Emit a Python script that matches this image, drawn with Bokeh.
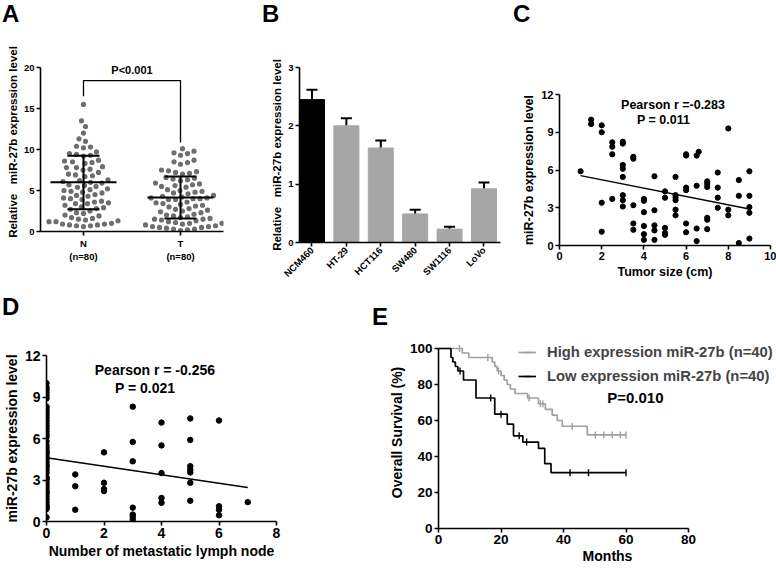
import math
import numpy as np
from bokeh.plotting import figure
from bokeh.models import (Label, Legend, LegendItem, Range1d, FixedTicker,
                          ColumnDataSource, Whisker, TeeHead, Div)
from bokeh.layouts import row, column
from bokeh.embed import file_html
from bokeh.resources import INLINE

FONT = "Liberation Sans"

# ---------------- data ----------------
# A: scatter dot plot (N vs T)
cat_pos_A = [1, 2]
cat_labels_A = ["N\n(n=80)", "T\n(n=80)"]
vals_N = [15.5, 13.5, 12.8, 12.0, 11.3, 11.0, 10.4, 10.3, 10.2, 9.7, 9.5, 9.4, 9.3, 9.2,
          8.7, 8.6, 8.5, 8.4, 8.3, 7.9, 7.8, 7.8, 7.6, 7.5, 7.2, 7.0, 6.9, 6.8, 6.7,
          6.3, 6.2, 6.1, 6.0, 5.9, 5.7, 5.6, 5.5, 5.4, 5.2, 5.1, 5.0, 4.9, 4.8, 4.7,
          4.5, 4.4, 4.3, 4.1, 4.0, 3.9, 3.7, 3.6, 3.5, 3.4, 3.4, 3.2, 3.0, 2.9, 2.8, 2.7,
          2.5, 2.3, 2.2, 2.0, 1.9, 1.7, 1.6, 1.5, 1.4, 1.3, 1.2, 1.2,
          1.0, 0.9, 0.9, 0.8, 0.8, 0.7, 0.7, 0.6]
vals_T = [10.1, 9.8, 9.6, 9.5, 9.3, 8.7, 8.5, 8.4, 8.2, 7.5, 7.4, 7.3, 7.2, 7.1, 7.0,
          6.6, 6.5, 6.4, 6.3, 6.2, 5.9, 5.8, 5.7, 5.6, 5.5, 5.4, 5.1, 5.0, 4.9, 4.8, 4.7, 4.6,
          4.4, 4.3, 4.2, 4.1, 4.1, 4.0, 4.0, 3.9, 3.9, 3.6, 3.5, 3.4, 3.3, 3.2, 3.1, 3.0,
          2.8, 2.7, 2.6, 2.5, 2.4, 2.3, 2.1, 2.0, 1.9, 1.8, 1.7,
          1.6, 1.5, 1.5, 1.4, 1.3, 1.2, 1.1, 1.0, 0.9, 0.8, 0.7, 0.6, 0.5, 0.5, 0.4,
          0.3, 0.3, 0.2, 0.1, 0.6, 1.0]
mean_A = [6.0, 4.15]
sd_low_A = [2.7, 1.6]
sd_high_A = [9.25, 6.7]
bracket_A = [16.5, 18.4, 10.85]   # left foot, top, right foot
p_text_A = "P<0.001"

# B: cell lines bar chart
cells_B = ["NCM460", "HT-29", "HCT116", "SW480", "SW1116", "LoVo"]
mean_B = [2.45, 2.0, 1.62, 0.49, 0.23, 0.92]
err_B = [0.17, 0.13, 0.13, 0.07, 0.04, 0.11]

# C: tumor size vs expression
tumor_size = [1, 1.5, 1.5, 2, 2, 2, 2, 2.5, 2.5, 2.5, 2.5,
              3, 3, 3, 3, 3, 3, 3, 3, 3.5, 3.5, 3.5, 3.5, 3.5,
              4, 4, 4, 4, 4, 4, 4.5, 4.5, 4.5, 4.5, 4.5, 5, 5, 5, 5, 5,
              5.5, 5.5, 5.5, 5.5, 5.5, 5.5, 6, 6, 6, 6, 6, 6,
              6.5, 6.6, 6.5, 6.5, 6.5, 7, 7, 7, 7, 7, 7, 7.5, 7.5, 7.5, 7.5,
              8, 8, 8, 8.5, 8.5, 8.5, 9, 9, 9, 9, 9]
expr_C = [5.9, 10.0, 9.65, 9.55, 9.0, 3.4, 1.1, 8.2, 7.85, 7.25, 3.7,
          8.25, 8.1, 6.4, 6.1, 5.45, 4.0, 3.6, 3.1, 7.05, 6.9, 3.2, 1.75, 1.25,
          3.7, 3.55, 2.65, 1.55, 0.9, 0.45, 5.5, 2.8, 1.6, 1.2, 0.45, 4.3, 3.8, 1.4, 1.0, 0.85,
          5.45, 4.0, 3.8, 3.6, 2.85, 2.4, 7.25, 7.15, 4.6, 4.4, 1.75, 1.05,
          7.15, 7.45, 4.75, 1.35, 0.35, 5.1, 4.9, 4.65, 2.2, 2.05, 1.3, 5.8, 4.6, 3.8, 3.0,
          9.3, 2.85, 2.4, 5.2, 3.95, 0.2, 5.9, 3.95, 3.05, 2.6, 0.55]
fit_C_x = [1, 9]
fit_C_y = [5.55, 2.9]
stats_C = ["Pearson r =-0.283", "P = 0.011"]

# D: metastatic lymph nodes vs expression
nodes_D = [0, 0, 0, 0, 0, 0, 0, 0, 0, 0, 0, 0, 0, 0, 0, 0, 0, 0, 0, 0,
           0, 0, 0, 0, 0, 0, 0, 0, 0, 0, 0, 0, 0, 0, 0, 0, 0, 0, 0, 0,
           0, 0, 0, 0, 0, 0, 0, 0, 0,
           1, 1, 1, 2, 2, 2, 2, 3, 3, 3, 3, 3, 3, 3, 4, 4, 4, 4, 4,
           5, 5, 5, 5, 5, 5, 5, 6, 6, 6, 6, 7]
expr_D = [10.0, 9.7, 9.5, 9.3, 9.1, 8.9, 8.3, 8.1, 7.9, 7.7, 7.3, 7.1, 6.9, 6.7, 6.3, 6.1,
          5.8, 5.5, 5.3, 5.1, 4.9, 4.7, 4.5, 4.3, 4.1, 3.9, 3.7, 3.5, 3.2, 3.0, 2.8, 2.6,
          2.4, 2.2, 2.0, 1.8, 1.6, 1.4, 1.2, 1.0, 0.9, 0.3, 6.5, 5.0, 4.0, 3.1, 2.1, 1.1, 7.5,
          3.4, 2.55, 0.85, 5.0, 2.8, 2.35, 2.2, 8.3, 5.75, 4.35, 1.0, 0.5, 0.35, 0.15,
          7.15, 5.5, 3.5, 1.7, 1.35, 7.45, 5.9, 4.0, 3.75, 3.55, 2.8, 1.5,
          7.3, 1.1, 0.85, 0.45, 1.4]
fit_D_x = [0, 7]
fit_D_y = [4.6, 2.45]
stats_D = ["Pearson r = -0.256", "P = 0.021"]

# E: Kaplan-Meier
high_t = [0, 7.6, 9.7, 17.2, 18.0, 18.8, 20.0, 21.0, 22.0, 23.0, 24.5, 28.5, 32.0, 34.2,
          36.4, 38.0, 39.6, 47.6, 60]
high_s = [100, 97.5, 95.0, 92.5, 90.0, 87.5, 85.0, 82.5, 80.0, 77.5, 75.0, 72.5, 69.3, 66.2,
          63.0, 60.0, 56.8, 52.0, 52.0]
high_cens = [6.7, 15.8, 19.2, 29.0, 32.6, 33.4, 42.8, 50.2, 52.9, 55.6, 58.2, 60]
low_t = [0, 4.0, 4.6, 5.4, 6.2, 8.0, 12.0, 18.0, 22.0, 24.0, 27.0, 32.0, 34.0, 36.0, 60]
low_s = [100, 95.0, 92.5, 90.0, 87.5, 82.5, 72.5, 63.5, 58.0, 51.5, 48.0, 44.5, 36.0, 31.0, 31.0]
low_cens = [6.9, 16.7, 20.0, 25.8, 28.2, 42.1, 48.0, 60]
legend_E = ["High expression miR-27b (n=40)", "Low expression miR-27b (n=40)"]
p_text_E = "P=0.010"

panel_letters = ["A", "B", "C", "D", "E"]

# ---------------- helpers ----------------
GRAY_DOT = "#6e6e6e"
GRAY_BAR = "#a6a6a6"
GRAY_LINE = "#a0a0a0"


def style(p, tick_size, label_size):
    p.xgrid.visible = False
    p.ygrid.visible = False
    p.outline_line_color = None
    for ax in p.axis:
        ax.axis_line_width = 1.6
        ax.axis_line_color = "black"
        ax.major_tick_line_width = 1.6
        ax.major_tick_line_color = "black"
        ax.major_tick_in = 0
        ax.major_tick_out = 4
        ax.minor_tick_line_color = None
        ax.major_label_text_font = FONT
        ax.major_label_text_font_style = "bold"
        ax.major_label_text_font_size = tick_size
        ax.major_label_text_color = "black"
        ax.axis_label_text_font = FONT
        ax.axis_label_text_font_style = "bold"
        ax.axis_label_text_font_size = label_size
        ax.axis_label_text_color = "black"
        ax.major_label_standoff = 2
        ax.axis_label_standoff = 2


def txt(p, x, y, s, size):
    p.add_layout(Label(x=x, y=y, text=s, text_font=FONT, text_font_style="bold",
                       text_font_size=size, text_align="center", text_baseline="middle",
                       text_color="black"))


def letter_div(s, width, height, left, top):
    html = ('<div style="position:relative; left:%dpx; top:%dpx; font-family:\'%s\'; '
            'font-size:24px; font-weight:bold; line-height:24px; color:black; margin:0; '
            'padding:0;">%s</div>') % (left, top, FONT, s)
    return Div(text=html, width=width, height=height, margin=0)


def swarm(vals, center, px_x, px_y, d):
    vals = np.asarray(vals, dtype=float)
    order = np.argsort(vals)
    placed = []
    xs = np.zeros(len(vals))
    for i in order:
        y = vals[i] * px_y
        best = 0.0
        for k in range(0, 400):
            cands = [0.0] if k == 0 else [k * 0.5, -k * 0.5]
            found = None
            for s in cands:
                if all((s - a) ** 2 + (y - b) ** 2 >= d * d for a, b in placed):
                    found = s
                    break
            if found is not None:
                best = found
                break
        placed.append((best, y))
        xs[i] = center + best / px_x
    return xs


def make(width, height, xr, yr, l, r, t, b):
    return figure(width=width, height=height, x_range=Range1d(*xr), y_range=Range1d(*yr),
                  min_border_left=l, min_border_right=r, min_border_top=t, min_border_bottom=b,
                  frame_align=False, output_backend="svg", toolbar_location=None)

H1 = 30
H2 = 45

# ---------------- panel A ----------------
xa0, xa1 = 0.557, 2.443
pA = make(255, 285 - H1, (xa0, xa1), (0, 21.83), 40, 32, 52 - H1, 54)
style(pA, "9.5px", "11.5px")
pA.yaxis.ticker = FixedTicker(ticks=[0, 5, 10, 15, 20])
pA.yaxis.bounds = (0, 20)
pA.xaxis.ticker = FixedTicker(ticks=cat_pos_A)
pA.xaxis.major_label_overrides = {cat_pos_A[i]: cat_labels_A[i] for i in range(2)}
pA.yaxis.axis_label = "Relative\u00a0\u00a0\u00a0miR-27b expression level"
pxx = 183 / (xa1 - xa0)
pxy = 8.2
for pos, vals in zip(cat_pos_A, [vals_N, vals_T]):
    xs = swarm(vals, pos, pxx, pxy, 6.8)
    pA.scatter(xs, vals, size=5.2, color=GRAY_DOT, line_color=None)
half_mean = 33 / pxx
half_cap = 16 / pxx
pA.segment([c - half_mean for c in cat_pos_A], mean_A, [c + half_mean for c in cat_pos_A], mean_A,
           line_color="black", line_width=2)
pA.segment(cat_pos_A, sd_low_A, cat_pos_A, sd_high_A, line_color="black", line_width=2)
pA.segment([c - half_cap for c in cat_pos_A], sd_low_A, [c + half_cap for c in cat_pos_A], sd_low_A,
           line_color="black", line_width=2)
pA.segment([c - half_cap for c in cat_pos_A], sd_high_A, [c + half_cap for c in cat_pos_A], sd_high_A,
           line_color="black", line_width=2)
pA.line([cat_pos_A[0], cat_pos_A[0], cat_pos_A[1], cat_pos_A[1]],
        [bracket_A[0], bracket_A[1], bracket_A[1], bracket_A[2]], line_color="black", line_width=1.3)
txt(pA, (cat_pos_A[0] + cat_pos_A[1]) / 2, 19.75, p_text_A, "11px")

# ---------------- panel B ----------------
pB = make(257, 285 - H1, (-0.363, 5.48), (0, 3), 44, 12, 67 - H1, 43)
style(pB, "9.5px", "11.5px")
idx_B = list(range(len(cells_B)))
colors_B = ["black"] + [GRAY_BAR] * (len(cells_B) - 1)
srcB = ColumnDataSource(dict(x=idx_B, top=mean_B, upper=[m + e for m, e in zip(mean_B, err_B)],
                             color=colors_B))
pB.vbar(x="x", top="top", width=0.727, color="color", source=srcB)
pB.add_layout(Whisker(source=srcB, base="x", lower="top", upper="upper", line_width=2,
                      line_color="black", lower_head=None,
                      upper_head=TeeHead(size=11, line_width=2, line_color="black")))
pB.yaxis.ticker = FixedTicker(ticks=[0, 1, 2, 3])
pB.xaxis.ticker = FixedTicker(ticks=idx_B)
pB.xaxis.major_label_overrides = {i: c for i, c in zip(idx_B, cells_B)}
pB.xaxis.major_label_orientation = math.pi / 4
pB.yaxis.axis_label = "Relative\u00a0\u00a0\u00a0miR-27b expression level"

# ---------------- panel C ----------------
pC = make(264, 285 - H1, (0, 10), (0, 12), 47, 6, 94 - H1, 40)
style(pC, "11px", "12.5px")
pC.xaxis.ticker = FixedTicker(ticks=[0, 2, 4, 6, 8, 10])
pC.yaxis.ticker = FixedTicker(ticks=[0, 3, 6, 9, 12])
pC.xaxis.axis_label = "Tumor size (cm)"
pC.yaxis.axis_label = "miR-27b expression level"
pC.scatter(tumor_size, expr_C, size=5.2, color="black")
pC.line(fit_C_x, fit_C_y, line_color="black", line_width=1.4)
txt(pC, 5.38, 11.2, stats_C[0], "12.5px")
txt(pC, 4.93, 10.0, stats_C[1], "12.5px")

# ---------------- panel D ----------------
pD = make(300, 283 - H2, (0, 8), (0, 12), 42, 24, 70 - H2, 47)
style(pD, "14px", "14px")
pD.xaxis.ticker = FixedTicker(ticks=[0, 2, 4, 6, 8])
pD.yaxis.ticker = FixedTicker(ticks=[0, 3, 6, 9, 12])
pD.xaxis.axis_label = "Number of metastatic lymph node"
pD.yaxis.axis_label = "miR-27b expression level"
pD.scatter(nodes_D, expr_D, size=5.5, color="black")
pD.line(fit_D_x, fit_D_y, line_color="black", line_width=1.5)
txt(pD, 3.77, 10.97, stats_D[0], "14px")
txt(pD, 3.43, 9.67, stats_D[1], "14px")

# ---------------- panel E ----------------
pE = make(476, 283 - H2, (0, 108.16), (0, 106.67), 138, 0, 51 - H2, 40)
style(pE, "13.5px", "14px")
pE.xaxis.ticker = FixedTicker(ticks=[0, 20, 40, 60, 80])
pE.xaxis.bounds = (0, 80)
pE.yaxis.ticker = FixedTicker(ticks=[0, 20, 40, 60, 80, 100])
pE.yaxis.bounds = (0, 100)
pE.xaxis.axis_label = "Months"
pE.yaxis.axis_label = "Overall Survival (%)"
pE.xaxis.axis_label_standoff = 1


def surv_at(ts, ss, c):
    i = int(np.searchsorted(np.asarray(ts), c, side="right")) - 1
    return ss[i]


items = []
for ts, ss, cens, col, lab in [(high_t, high_s, high_cens, GRAY_LINE, legend_E[0]),
                               (low_t, low_s, low_cens, "black", legend_E[1])]:
    r1 = pE.step(ts, ss, mode="after", line_color=col, line_width=1.7)
    r2 = pE.scatter(cens, [surv_at(ts, ss, c) for c in cens], marker="dash", angle=math.pi / 2,
                    size=7, line_color=col, line_width=1.4)
    items.append(LegendItem(label=lab, renderers=[r1, r2]))
leg = Legend(items=items, location=(80, 142), glyph_width=18, glyph_height=20, label_height=20,
             spacing=4, padding=0, margin=0, label_standoff=11,
             label_text_font=FONT, label_text_font_style="bold", label_text_font_size="14.8px",
             border_line_color=None, background_fill_alpha=0)
pE.add_layout(leg)
txt(pE, 63, 72.9, p_text_E, "15px")

# ---------------- letters (HTML text) ----------------
dA = letter_div(panel_letters[0], 255, H1, 2, 2)
dB = letter_div(panel_letters[1], 257, H1, 7, 2)
dC = letter_div(panel_letters[2], 264, H1, 1, 2)
dD = letter_div(panel_letters[3], 300, H2, 2, 10)
dE = letter_div(panel_letters[4], 476, H2, 72, 20)

layout = column(row(dA, dB, dC), row(pA, pB, pC), row(dD, dE), row(pD, pE))
open("out.html", "w").write(file_html(layout, INLINE))
